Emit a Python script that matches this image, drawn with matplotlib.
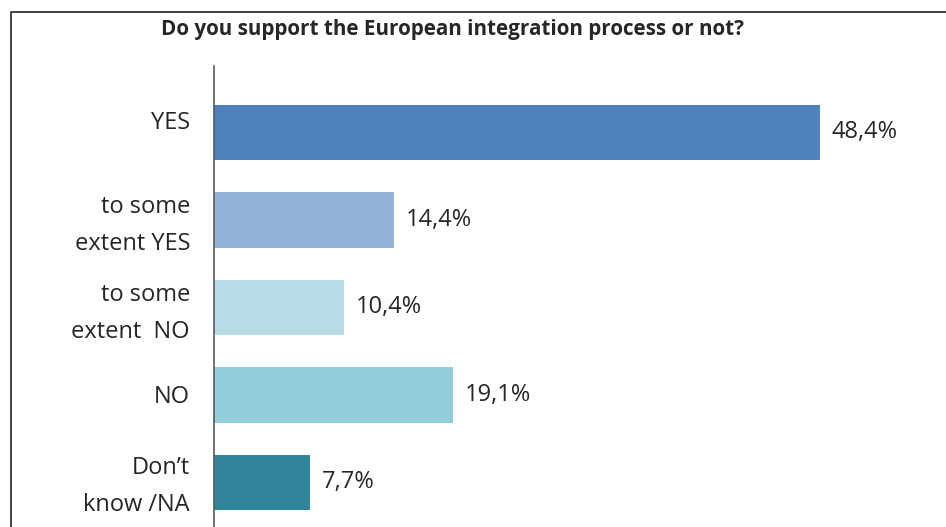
import matplotlib.pyplot as plt
from matplotlib.lines import Line2D
from matplotlib.transforms import blended_transform_factory

plt.rcParams['font.family'] = ['Open Sans', 'DejaVu Sans']

categories = ['YES', 'to some\nextent YES', 'to some\nextent  NO', 'NO', 'Don\u2019t\nknow /NA']
values = [48.4, 14.4, 10.4, 19.1, 7.7]
labels = ['48,4%', '14,4%', '10,4%', '19,1%', '7,7%']
colors = ['#4f81bd', '#95b3d7', '#b7dee8', '#92cddc', '#31849b']
title = 'Do you support the European integration process or not?'

W, H = 946, 527
fig = plt.figure(figsize=(W / 100, H / 100), dpi=100)
ax = fig.add_axes([214 / W, 0, 1 - 214 / W, 1 - 66 / H])

pos = list(range(len(values)))
ax.barh(pos, values, height=0.63, color=colors)
for p, v, lab in zip(pos, values, labels):
    ax.text(v + 0.95, p, lab, va='center', ha='left', fontsize=17, color='#262626')

# category labels drawn by hand (the single-line YES sits higher than its bar centre)
trans = blended_transform_factory(ax.transAxes, ax.transData)
shift = [-0.11, 0.065, 0.065, 0.025, 0.05]
for p, cat, dy in zip(pos, categories, shift):
    ax.text(-24 / (W - 214), p + dy, cat, transform=trans, ha='right', va='center',
            fontsize=17, color='#262626', linespacing=1.72, clip_on=False)

ax.set_xlim(0, (W - 214) / 12.52)
ax.set_ylim(4.509, -0.76)
ax.set_yticks([])
ax.set_xticks([])
for s in ['top', 'right', 'bottom']:
    ax.spines[s].set_visible(False)
ax.spines['left'].set_color('#595959')
ax.spines['left'].set_linewidth(1.2)

# outer frame (left and top only)
fig.add_artist(Line2D([10.5 / W, 10.5 / W, 1], [0, 1 - 11.5 / H, 1 - 11.5 / H],
                      transform=fig.transFigure, color='#333333', lw=1.3))
fig.text(452 / W, 1 - 29 / H, title, ha='center', va='center',
         fontsize=14.9, fontweight='bold', color='#262626')

fig.savefig('out.png', dpi=100)
